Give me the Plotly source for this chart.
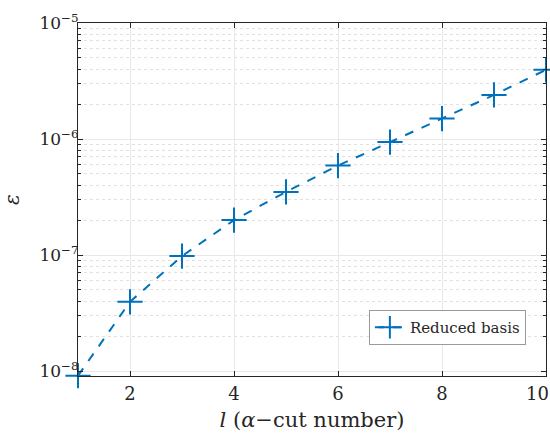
import plotly.graph_objects as go

cut_number = [1, 2, 3, 4, 5, 6, 7, 8, 9, 10]
error_values = [9.1e-9, 3.95e-8, 9.8e-8, 2.0e-7, 3.5e-7, 5.9e-7, 9.4e-7, 1.5e-6, 2.4e-6, 3.95e-6]
x_tick_vals = [2, 4, 6, 8, 10]
x_tick_text = ["2", "4", "6", "8", "10\u00a0\u00a0\u00a0"]
y_tick_vals = [1e-8, 1e-7, 1e-6, 1e-5]
y_tick_text = ["10<sup>−8</sup>", "10<sup>−7</sup>", "10<sup>−6</sup>", "10<sup>−5</sup>"]

blue = "#0072BD"
font_family = "DejaVu Serif"
ink = "#262626"

fig = go.Figure()
fig.add_trace(go.Scatter(
    x=cut_number, y=error_values, mode="lines+markers",
    name="Reduced basis", cliponaxis=False,
    line=dict(color=blue, width=2, dash="dash"),
    marker=dict(symbol="cross-thin", size=18, line=dict(color=blue, width=2), color=blue),
))

fig.update_layout(
    width=550, height=438,
    margin=dict(l=78, r=4, t=23, b=62, autoexpand=False),
    paper_bgcolor="white", plot_bgcolor="white",
    font=dict(family=font_family, size=17, color=ink),
    showlegend=True,
    legend=dict(
        x=0.957, y=0.088, xanchor="right", yanchor="bottom",
        bgcolor="white", bordercolor="#9a9a9a", borderwidth=1,
        font=dict(family=font_family, size=15, color=ink),
        itemwidth=30, tracegroupgap=0,
    ),
)

fig.update_xaxes(
    range=[1, 10], tickvals=x_tick_vals, ticktext=x_tick_text,
    tickfont=dict(family=font_family, size=18, color=ink),
    ticks="inside", ticklen=5, tickcolor=ink,
    showline=True, linecolor=ink, linewidth=1, mirror="ticks",
    showgrid=True, gridcolor="#e8e8e8", gridwidth=1,
    zeroline=False, ticklabeloverflow="allow", ticklabelstandoff=1,
    title=dict(text="<i>l</i> (<i>α</i>−cut number)",
               font=dict(family=font_family, size=21, color=ink), standoff=9),
)
fig.update_yaxes(
    type="log", range=[-8.043, -5],
    tickvals=y_tick_vals, ticktext=y_tick_text,
    tickfont=dict(family=font_family, size=17, color=ink),
    ticks="inside", ticklen=5, tickcolor=ink,
    showline=True, linecolor=ink, linewidth=1, mirror="ticks",
    showgrid=True, gridcolor="#e8e8e8", gridwidth=1,
    zeroline=False, ticklabelstandoff=-5,
    minor=dict(ticks="inside", ticklen=3, tickcolor=ink, showgrid=True,
               gridcolor="#e0e0e0", griddash="dot", dtick="D1"),
    title=dict(text="<i>ε</i>", font=dict(family=font_family, size=20, color=ink), standoff=20),
)

fig.write_html(
    "out.html",
    config={"displayModeBar": False},
    post_script="document.body.style.margin='0';document.body.style.overflow='hidden';",
)
